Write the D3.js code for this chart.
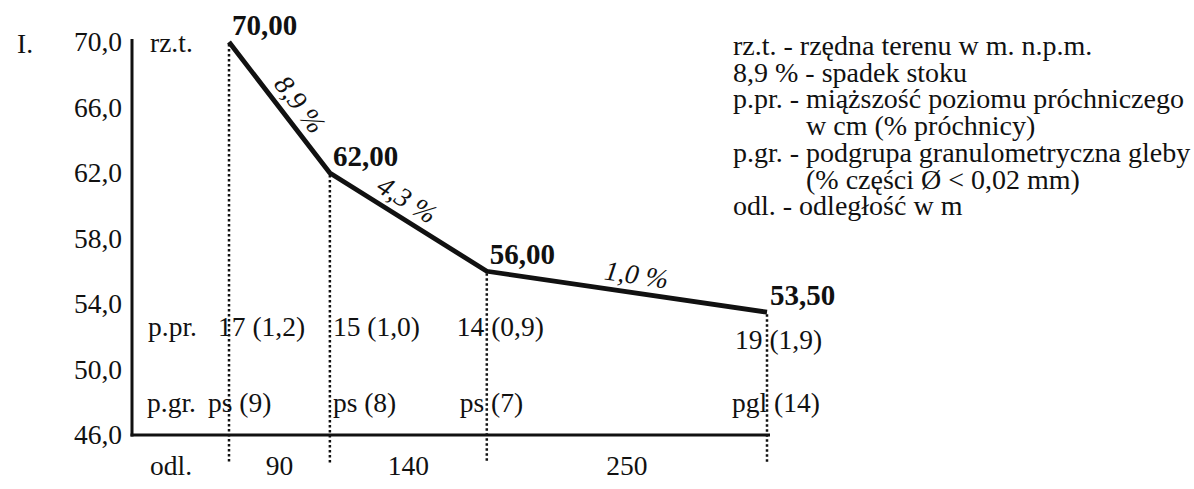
<!DOCTYPE html>
<html lang="pl">
<head>
    <meta charset="UTF-8" />
    <title>Profil stoku I</title>
    <script src="https://d3js.org/d3.v7.min.js"></script>
    <style>
        body {
            margin: 0;
            background: #fff;
        }

        svg text {
            font-family: "Liberation Serif", "Times New Roman", serif;
            font-size: 27.5px;
            fill: #111;
        }

        .profile {
            fill: none;
            stroke: #111;
            stroke-width: 4.8;
            stroke-linejoin: round;
        }

        .axis-line {
            stroke: #111;
            stroke-width: 3;
        }

        .drop {
            stroke: #111;
            stroke-width: 2.5;
            stroke-dasharray: 2.5, 2.5;
        }

        svg text.elev {
            font-weight: bold;
            font-size: 29px;
        }

        svg text.slope {
            font-style: italic;
        }

        svg text.legend {
            font-size: 28px;
        }
    </style>
</head>

<body>
    <div id="chart"></div>

    <script>
        // data
        var distances = [0, 90, 230, 480];          // cumulative distance, m
        var elevations = [70.00, 62.00, 56.00, 53.50];
        var elevLabels = ["70,00", "62,00", "56,00", "53,50"];
        var segLengths = ["90", "140", "250"];
        var slopes = ["8,9 %", "4,3 %", "1,0 %"];
        var humus = ["17 (1,2)", "15 (1,0)", "14 (0,9)", "19 (1,9)"];
        var grain = ["ps (9)", "ps (8)", "ps (7)", "pgl (14)"];
        var yTicks = [46, 50, 54, 58, 62, 66, 70];
        var legendLines = [
            "rz.t. - rzędna terenu w m. n.p.m.",
            "8,9 % - spadek stoku",
            "p.pr. - miąższość poziomu próchniczego",
            "w cm (% próchnicy)",
            "p.gr. - podgrupa granulometryczna gleby",
            "(% części Ø < 0,02 mm)",
            "odl. - odległość w m"
        ];

        var w = 1194;
        var h = 489;

        var svg = d3.select("#chart")
            .append("svg")
            .attr("width", w)
            .attr("height", h);

        var xScale = d3.scaleLinear().domain([0, 480]).range([229, 767]);
        var yScale = d3.scaleLinear().domain([46, 70]).range([435, 42]);

        var axisX = 132;
        var points = distances.map(function(d, i) {
            return { dist: d, elev: elevations[i] };
        });

        // label placement around the dotted verticals (layout only)
        var humusDx = [-11, 3, -30, -32];
        var humusY = [336, 336, 336, 349];
        var grainDx = [-21, 3, -27, -35];
        var slopeT = [0.56, 0.43, 0.525];

        // left axis
        svg.append("line")
            .attr("class", "axis-line")
            .attr("x1", axisX).attr("x2", axisX)
            .attr("y1", yScale(70) - 3).attr("y2", yScale(46) + 1.5);

        svg.append("line")
            .attr("class", "axis-line")
            .attr("x1", axisX - 1.5).attr("x2", xScale(480) + 3)
            .attr("y1", yScale(46)).attr("y2", yScale(46));

        svg.selectAll(".ytick")
            .data(yTicks)
            .enter().append("text")
            .attr("class", "ytick")
            .attr("x", 122)
            .attr("y", function(d) { return yScale(d) + 9; })
            .attr("text-anchor", "end")
            .text(function(d) { return d3.format(".1f")(d).replace(".", ","); });

        svg.append("text").attr("x", 17).attr("y", 53).text("I.");
        svg.append("text").attr("x", 150).attr("y", 52).text("rz.t.");
        svg.append("text").attr("x", 148).attr("y", 336).text("p.pr.");
        svg.append("text").attr("x", 147).attr("y", 412).text("p.gr.");
        svg.append("text").attr("x", 150).attr("y", 475).text("odl.");

        // dotted verticals
        svg.selectAll(".drop")
            .data(points)
            .enter().append("line")
            .attr("class", "drop")
            .attr("x1", function(d) { return xScale(d.dist); })
            .attr("x2", function(d) { return xScale(d.dist); })
            .attr("y1", function(d) { return yScale(d.elev) + 2; })
            .attr("y2", 463);

        // profile line
        var line = d3.line()
            .x(function(d) { return xScale(d.dist); })
            .y(function(d) { return yScale(d.elev); });

        svg.append("path")
            .datum(points)
            .attr("class", "profile")
            .attr("d", line);

        // elevation labels
        svg.selectAll(".elev")
            .data(points)
            .enter().append("text")
            .attr("class", "elev")
            .attr("x", function(d) { return xScale(d.dist) + 3; })
            .attr("y", function(d) { return yScale(d.elev) - 7; })
            .text(function(d, i) { return elevLabels[i]; });

        // slope labels, rotated along each segment
        slopes.forEach(function(s, i) {
            var x0 = xScale(distances[i]), y0 = yScale(elevations[i]);
            var x1 = xScale(distances[i + 1]), y1 = yScale(elevations[i + 1]);
            var ang = Math.atan2(y1 - y0, x1 - x0);
            var t = slopeT[i];
            var px = x0 + (x1 - x0) * t;
            var py = y0 + (y1 - y0) * t;
            svg.append("text")
                .attr("class", "slope")
                .attr("text-anchor", "middle")
                .attr("transform", "translate(" + px + "," + py + ") rotate(" + (ang * 180 / Math.PI) + ")")
                .attr("y", -9)
                .text(s);
        });

        // p.pr. and p.gr. rows
        svg.selectAll(".humus")
            .data(humus)
            .enter().append("text")
            .attr("class", "humus")
            .attr("x", function(d, i) { return xScale(distances[i]) + humusDx[i]; })
            .attr("y", function(d, i) { return humusY[i]; })
            .text(function(d) { return d; });

        svg.selectAll(".grain")
            .data(grain)
            .enter().append("text")
            .attr("class", "grain")
            .attr("x", function(d, i) { return xScale(distances[i]) + grainDx[i]; })
            .attr("y", 412)
            .text(function(d) { return d; });

        // segment distances
        svg.selectAll(".seg")
            .data(segLengths)
            .enter().append("text")
            .attr("class", "seg")
            .attr("text-anchor", "middle")
            .attr("x", function(d, i) { return (xScale(distances[i]) + xScale(distances[i + 1])) / 2; })
            .attr("y", 475)
            .text(function(d) { return d; });

        // legend
        svg.selectAll(".legend")
            .data(legendLines)
            .enter().append("text")
            .attr("class", "legend")
            .attr("x", function(d, i) { return (i === 3 || i === 5) ? 806 : 733; })
            .attr("y", function(d, i) { return 55 + i * 26.7; })
            .text(function(d) { return d; });
    </script>
</body>
</html>
